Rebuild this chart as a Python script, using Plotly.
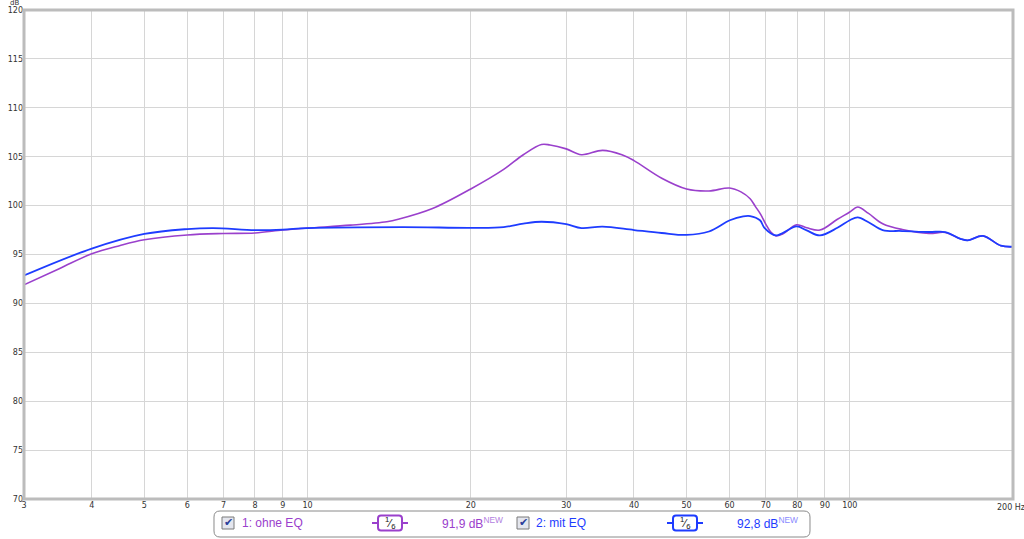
import plotly.graph_objects as go
import math

# ---------------- data ----------------
freq_ohne = [3, 3.5, 4, 4.5, 5, 6, 7, 8, 9, 10, 12, 14, 14.7, 17, 20, 23, 25, 27, 28, 30, 32, 35,
             38, 40, 45, 50, 55, 60, 63, 65.5, 67, 68.5, 70, 71.5, 73.1, 75.2, 79.8, 83.3, 88.1,
             94.9, 100, 103.4, 108.3, 115, 125, 140, 150, 160, 165, 176, 190, 200]
db_ohne = [91.9, 93.6, 95.07, 95.9, 96.5, 97.0, 97.15, 97.2, 97.5, 97.7, 98.0, 98.35, 98.6, 99.7,
           101.7, 103.7, 105.2, 106.25, 106.2, 105.8, 105.2, 105.65, 105.2, 104.6, 102.8, 101.7,
           101.5, 101.8, 101.4, 100.7, 99.9, 99.1, 98.1, 97.3, 96.9, 97.1, 98.04, 97.73, 97.5,
           98.6, 99.35, 99.85, 99.2, 98.15, 97.55, 97.15, 97.25, 96.6, 96.45, 96.9, 95.9, 95.8]

freq_mit = [3, 4, 5, 6, 6.7, 8, 9, 10, 15, 20, 23, 25, 27, 30, 32, 35, 40, 45, 50, 55, 60.1, 63.6,
            65.5, 68.3, 69.6, 73.1, 75.2, 79.8, 83.3, 88.1, 94.9, 100, 103.4, 108.3, 115, 125,
            140, 150, 160, 165, 176, 190, 200]
db_mit = [92.85, 95.6, 97.1, 97.6, 97.7, 97.5, 97.55, 97.7, 97.8, 97.73, 97.8, 98.15, 98.35, 98.1,
          97.7, 97.85, 97.5, 97.2, 97.0, 97.35, 98.5, 98.9, 98.93, 98.5, 97.73, 96.95, 97.2,
          97.87, 97.46, 96.95, 97.73, 98.5, 98.8, 98.3, 97.5, 97.4, 97.3, 97.3, 96.6, 96.45,
          96.9, 95.9, 95.8]

x_ticks = [3, 4, 5, 6, 7, 8, 9, 10, 20, 30, 40, 50, 60, 70, 80, 90, 100]
x_ticktext = ["3", "4", "5", "6", "7", "8", "9", "10", "20", "30", "40", "50", "60", "70", "80",
              "90", "100"]
x_end_label = "200 Hz"
y_ticks = [70, 75, 80, 85, 90, 95, 100, 105, 110, 115, 120]

names = ["1: ohne EQ", "2: mit EQ"]
levels = ["91,9 dB", "92,8 dB"]

PURPLE = "#9a40cc"
BLUE = "#1e3cff"

# ---------------- figure ----------------
W, H = 1024, 539
L, R, T, B = 24, 11, 10, 40
PW, PH = W - L - R, H - T - B


def px(x):
    return (x - L) / PW


def py(y):
    return (H - B - y) / PH


fig = go.Figure()
fig.add_trace(go.Scatter(x=freq_ohne, y=db_ohne, mode="lines", name=names[0],
                         line=dict(color=PURPLE, width=1.6, shape="spline", smoothing=1.0)))
fig.add_trace(go.Scatter(x=freq_mit, y=db_mit, mode="lines", name=names[1],
                         line=dict(color=BLUE, width=1.8, shape="spline", smoothing=1.0)))

fig.update_xaxes(type="log", range=[math.log10(3), math.log10(200)], tickvals=x_ticks,
                 ticktext=x_ticktext, showgrid=True, gridcolor="#d6d6d6", gridwidth=1,
                 zeroline=False, showline=False, ticks="",
                 tickfont=dict(family="DejaVu Sans", size=8, color="#333"))
fig.update_yaxes(range=[70, 120], tickvals=y_ticks, showgrid=True, gridcolor="#d6d6d6",
                 gridwidth=1, zeroline=False, showline=False, ticks="",
                 tickfont=dict(family="DejaVu Sans", size=8, color="#333"))

shapes = []
# plot frame
shapes.append(dict(type="rect", xref="paper", yref="paper", x0=0, x1=1, y0=0, y1=1,
                   line=dict(color="#bcbcbc", width=3), layer="above"))


def rounded(x0, y0, x1, y1, r):
    # pixel coordinates -> paper path with rounded corners
    def P(x, y):
        return f"{px(x):.5f},{py(y):.5f}"
    return (f"M {P(x0 + r, y0)} L {P(x1 - r, y0)} Q {P(x1, y0)} {P(x1, y0 + r)} "
            f"L {P(x1, y1 - r)} Q {P(x1, y1)} {P(x1 - r, y1)} L {P(x0 + r, y1)} "
            f"Q {P(x0, y1)} {P(x0, y1 - r)} L {P(x0, y0 + r)} Q {P(x0, y0)} {P(x0 + r, y0)} Z")


# legend box
shapes.append(dict(type="path", xref="paper", yref="paper", path=rounded(214, 511, 810, 537, 6),
                   line=dict(color="#8a8a8a", width=1), fillcolor="white"))

annotations = []
entries = [(222, 240, 372, 440, PURPLE, "#b27ee0"), (517, 534, 667, 735, BLUE, "#8a8aff")]
for i, (cbx, tx, bx, lx, col, newcol) in enumerate(entries):
    # checkbox
    shapes.append(dict(type="rect", xref="paper", yref="paper", x0=px(cbx), x1=px(cbx + 12),
                       y0=py(529), y1=py(517), line=dict(color="#7a7a7a", width=1),
                       fillcolor="#e4e6ee"))
    annotations.append(dict(xref="paper", yref="paper", x=px(cbx + 6.5), y=py(522.5),
                            text="✔", showarrow=False, xanchor="center", yanchor="middle",
                            font=dict(family="DejaVu Sans", size=11, color="#2a3f9a")))
    annotations.append(dict(xref="paper", yref="paper", x=px(tx), y=py(523), text=names[i],
                            showarrow=False, xanchor="left", yanchor="middle",
                            font=dict(family="Liberation Sans", size=12, color=col)))
    # smoothing badge
    shapes.append(dict(type="line", xref="paper", yref="paper", x0=px(bx), x1=px(bx + 36),
                       y0=py(523), y1=py(523), line=dict(color=col, width=2)))
    shapes.append(dict(type="path", xref="paper", yref="paper",
                       path=rounded(bx + 6, 515.5, bx + 30, 530.5, 3),
                       line=dict(color=col, width=2), fillcolor="white"))
    annotations.append(dict(xref="paper", yref="paper", x=px(bx + 18), y=py(523),
                            text="<sup>1</sup>⁄<sub>6</sub>", showarrow=False,
                            xanchor="center", yanchor="middle",
                            font=dict(family="Liberation Sans", size=11, color="#111")))
    annotations.append(dict(xref="paper", yref="paper", x=px(lx), y=py(523),
                            text=f"{levels[i]}<span style='color:{newcol}'><sup>NEW</sup></span>",
                            showarrow=False, xanchor="left", yanchor="middle",
                            font=dict(family="Liberation Sans", size=12, color=col)))

# dB unit label and end-of-axis label
annotations.append(dict(xref="paper", yref="paper", x=px(21), y=py(3), text="dB",
                        showarrow=False, xanchor="right", yanchor="middle",
                        font=dict(family="DejaVu Sans", size=7, color="#333")))
annotations.append(dict(xref="paper", yref="paper", x=px(1011), y=py(507), text=x_end_label,
                        showarrow=False, xanchor="center", yanchor="middle",
                        font=dict(family="DejaVu Sans", size=8, color="#333")))

fig.update_layout(width=W, height=H, margin=dict(l=L, r=R, t=T, b=B, autoexpand=False),
                  paper_bgcolor="white", plot_bgcolor="white", showlegend=False,
                  shapes=shapes, annotations=annotations)

fig.write_html("out.html", config={"displayModeBar": False},
               post_script="document.body.style.margin='0';document.body.style.padding='0';")
